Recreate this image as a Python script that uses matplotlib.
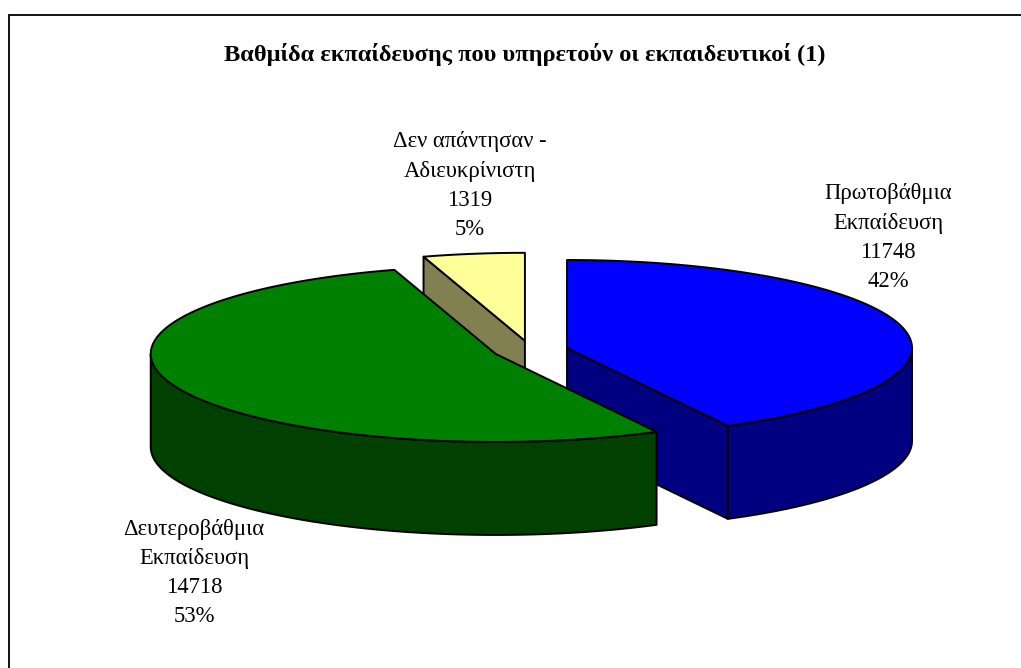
import numpy as np
import matplotlib.pyplot as plt
from matplotlib.patches import Polygon

# ── Δεδομένα ──
categories = ["Πρωτοβάθμια\nΕκπαίδευση", "Δευτεροβάθμια\nΕκπαίδευση", "Δεν απάντησαν -\nΑδιευκρίνιστη"]
values = [11748, 14718, 1319]
top_colors = ["#0000FF", "#008000", "#FFFF99"]
side_colors = ["#000080", "#004000", "#808050"]
title = "Βαθμίδα εκπαίδευσης που υπηρετούν οι εκπαιδευτικοί (1)"

# ── Διάταξη (pixels) ──
CX, CY = 530.5, 350.3
RX, RY = 345, 88
DEPTH = 93
EXPLODE = 0.109
label_pos = [(888, 194), (194, 529), (470, 142)]
LINE_H = 29.3
FONT = "Liberation Serif"


def rim(cx, cy, ang, dz=0.0):
    t = np.radians(np.atleast_1d(ang))
    return np.column_stack([cx + RX * np.sin(t), cy - RY * np.cos(t) + dz])


fig = plt.figure(figsize=(10.21, 6.68), dpi=100)
ax = fig.add_axes([0, 0, 1, 1])
ax.set_xlim(0, 1021)
ax.set_ylim(668, 0)
ax.axis("off")

total = sum(values)
bounds = np.concatenate([[0], np.cumsum(values) / total * 360])

slices = []
for i in range(len(values)):
    s, e = bounds[i], bounds[i + 1]
    mid = np.radians((s + e) / 2)
    cx = CX + EXPLODE * RX * np.sin(mid)
    cy = CY - EXPLODE * RY * np.cos(mid)
    slices.append((i, s, e, cx, cy))

# πίσω κομμάτια πρώτα
slices.sort(key=lambda t: t[4])

kw = dict(ec="black", lw=1.4, joinstyle="round")
for i, s, e, cx, cy in slices:
    faces = []
    # πλευρικές ακτινικές έδρες
    for ang, visible in ((s, 180 < s < 360), (e, 0 < e < 180)):
        if visible:
            p = rim(cx, cy, ang)[0]
            faces.append([(cx, cy), tuple(p), (p[0], p[1] + DEPTH), (cx, cy + DEPTH)])
    # εξωτερική καμπύλη πλευρά
    a1, a2 = max(s, 90), min(e, 270)
    if a2 > a1:
        angs = np.linspace(a1, a2, 120)
        up = rim(cx, cy, angs)
        dn = rim(cx, cy, angs[::-1], DEPTH)
        faces.append(np.vstack([up, dn]))
    for f in faces:
        ax.add_patch(Polygon(f, closed=True, fc=side_colors[i], **kw))
    # πάνω επιφάνεια
    angs = np.linspace(s, e, 200)
    top = np.vstack([[(cx, cy)], rim(cx, cy, angs)])
    ax.add_patch(Polygon(top, closed=True, fc=top_colors[i], **kw))

# ── Ετικέτες ──
for i, (lx, ly) in enumerate(label_pos):
    pct = round(values[i] / total * 100)
    lines = categories[i].split("\n") + [str(values[i]), f"{pct}%"]
    for k, txt in enumerate(lines):
        ax.text(lx, ly + k * LINE_H, txt, ha="center", va="center",
                fontsize=16.3, family=FONT, color="black")

ax.text(525, 54, title, ha="center", va="center", fontsize=17.6,
        fontweight="bold", family=FONT, color="black")

# πλαίσιο (μόνο πάνω και αριστερά ορατά)
ax.plot([9, 9, 1021], [668, 15, 15], color="black", lw=1.3, solid_joinstyle="miter")

fig.savefig("out.png", dpi=100, facecolor="white")
